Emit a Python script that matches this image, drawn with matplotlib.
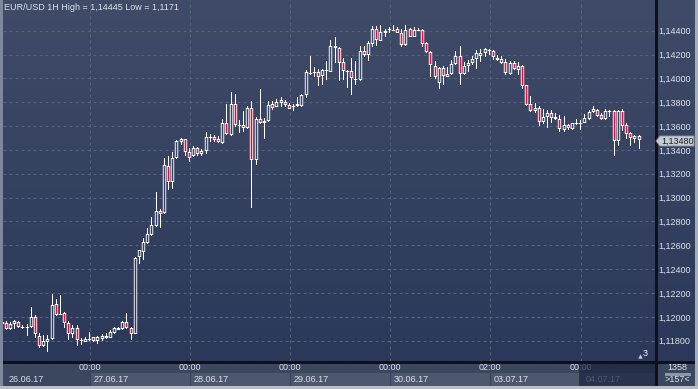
import matplotlib
matplotlib.use("Agg")
import matplotlib.pyplot as plt
import numpy as np
from matplotlib.patches import Rectangle, Polygon
from matplotlib.lines import Line2D
from matplotlib.colors import LinearSegmentedColormap, to_rgb
import matplotlib.transforms as mtransforms

plt.rcParams['font.family'] = ['Liberation Sans', 'DejaVu Sans']

W, H = 698, 389

# ---------------- data (EUR/USD, 1H candles) ----------------
opens = [
    1.11940, 1.11953, 1.11897, 1.11942, 1.11958, 1.11914, 1.11917, 1.11914, 1.12003, 1.11836,
    1.11753, 1.11792, 1.11811, 1.12111, 1.12028, 1.12031, 1.11953, 1.11858, 1.11903, 1.11803,
    1.11792, 1.11814, 1.11828, 1.11797, 1.11814, 1.11839, 1.11825, 1.11867, 1.11892, 1.11897,
    1.11955, 1.11908, 1.11858, 1.12503, 1.12547, 1.12619, 1.12686, 1.12764, 1.12892, 1.12875,
    1.13264, 1.13131, 1.13331, 1.13464, 1.13489, 1.13381, 1.13347, 1.13419, 1.13364, 1.13392,
    1.13508, 1.13508, 1.13490, 1.13457, 1.13624, 1.13527, 1.13783, 1.13608, 1.13608, 1.13580,
    1.13750, 1.13317, 1.13658, 1.13624, 1.13641, 1.13783, 1.13764, 1.13797, 1.13806, 1.13781,
    1.13767, 1.13769, 1.13769, 1.13864, 1.14046, 1.14051, 1.14054, 1.14021, 1.14065, 1.14057,
    1.14255, 1.14255, 1.14135, 1.14062, 1.14062, 1.13990, 1.13987, 1.14227, 1.14194, 1.14288,
    1.14411, 1.14316, 1.14378, 1.14411, 1.14411, 1.14411, 1.14383, 1.14280, 1.14411, 1.14350,
    1.14411, 1.14406, 1.14294, 1.14224, 1.14107, 1.13959, 1.14085, 1.14015, 1.14035, 1.14118,
    1.14188, 1.14035, 1.14104, 1.14127, 1.14160, 1.14188, 1.14210, 1.14233, 1.14227, 1.14174,
    1.14160, 1.14135, 1.14035, 1.14127, 1.14071, 1.14107, 1.13943, 1.13786, 1.13725, 1.13753,
    1.13638, 1.13675, 1.13708, 1.13675, 1.13658, 1.13569, 1.13608, 1.13574, 1.13624, 1.13630,
    1.13630, 1.13658, 1.13719, 1.13736, 1.13691, 1.13658, 1.13728, 1.13725, 1.13479, 1.13730,
    1.13608, 1.13541, 1.13490, 1.13513,
]
highs = [
    1.12000, 1.11964, 1.11958, 1.11972, 1.11964, 1.11936, 1.11942, 1.12081, 1.12014, 1.11869,
    1.11847, 1.11847, 1.12194, 1.12153, 1.12181, 1.12042, 1.11964, 1.11936, 1.11936, 1.11819,
    1.11831, 1.11875, 1.11833, 1.11842, 1.11853, 1.11864, 1.11886, 1.11919, 1.11914, 1.11964,
    1.12031, 1.11919, 1.12503, 1.12564, 1.12664, 1.12747, 1.12836, 1.13047, 1.12908, 1.13336,
    1.13347, 1.13386, 1.13486, 1.13503, 1.13492, 1.13414, 1.13436, 1.13425, 1.13408, 1.13547,
    1.13530, 1.13525, 1.13513, 1.13663, 1.13786, 1.13889, 1.13870, 1.13652, 1.13728, 1.13769,
    1.13809, 1.13680, 1.13912, 1.13666, 1.13814, 1.13814, 1.13831, 1.13842, 1.13820, 1.13797,
    1.13786, 1.13842, 1.13870, 1.14071, 1.14188, 1.14099, 1.14082, 1.14082, 1.14143, 1.14322,
    1.14344, 1.14266, 1.14174, 1.14071, 1.14171, 1.14149, 1.14272, 1.14272, 1.14316, 1.14439,
    1.14439, 1.14445, 1.14411, 1.14428, 1.14445, 1.14428, 1.14411, 1.14445, 1.14422, 1.14433,
    1.14422, 1.14411, 1.14305, 1.14230, 1.14146, 1.14099, 1.14104, 1.14093, 1.14155, 1.14227,
    1.14272, 1.14141, 1.14155, 1.14188, 1.14238, 1.14244, 1.14255, 1.14250, 1.14238, 1.14199,
    1.14188, 1.14166, 1.14143, 1.14143, 1.14141, 1.14113, 1.13948, 1.13853, 1.13792, 1.13769,
    1.13747, 1.13736, 1.13736, 1.13708, 1.13691, 1.13686, 1.13619, 1.13630, 1.13663, 1.13652,
    1.13700, 1.13736, 1.13769, 1.13747, 1.13708, 1.13742, 1.13736, 1.13736, 1.13736, 1.13742,
    1.13630, 1.13552, 1.13527, 1.13527,
]
lows = [
    1.11930, 1.11892, 1.11892, 1.11897, 1.11903, 1.11897, 1.11842, 1.11903, 1.11819, 1.11742,
    1.11747, 1.11708, 1.11806, 1.12008, 1.12019, 1.11908, 1.11808, 1.11819, 1.11753, 1.11764,
    1.11786, 1.11797, 1.11792, 1.11769, 1.11797, 1.11814, 1.11819, 1.11858, 1.11886, 1.11892,
    1.11897, 1.11808, 1.11853, 1.12447, 1.12481, 1.12614, 1.12681, 1.12758, 1.12747, 1.12864,
    1.13064, 1.13075, 1.13325, 1.13442, 1.13347, 1.13303, 1.13342, 1.13347, 1.13347, 1.13364,
    1.13464, 1.13469, 1.13462, 1.13446, 1.13524, 1.13521, 1.13596, 1.13541, 1.13549, 1.13574,
    1.12916, 1.13276, 1.13619, 1.13490, 1.13636, 1.13736, 1.13758, 1.13758, 1.13758, 1.13742,
    1.13730, 1.13758, 1.13758, 1.13836, 1.14026, 1.14009, 1.13940, 1.13945, 1.13987, 1.14051,
    1.14127, 1.13981, 1.13987, 1.13920, 1.13864, 1.13942, 1.13981, 1.14182, 1.14149, 1.14266,
    1.14272, 1.14311, 1.14344, 1.14383, 1.14394, 1.14378, 1.14266, 1.14274, 1.14344, 1.14344,
    1.14400, 1.14266, 1.14210, 1.14009, 1.13998, 1.13909, 1.13942, 1.14009, 1.14026, 1.14113,
    1.13942, 1.14029, 1.14057, 1.14110, 1.14077, 1.14141, 1.14177, 1.14199, 1.14154, 1.14143,
    1.14121, 1.14032, 1.14029, 1.14071, 1.14032, 1.13915, 1.13769, 1.13719, 1.13714, 1.13602,
    1.13619, 1.13580, 1.13630, 1.13652, 1.13552, 1.13552, 1.13569, 1.13569, 1.13613, 1.13569,
    1.13624, 1.13652, 1.13708, 1.13680, 1.13647, 1.13652, 1.13680, 1.13351, 1.13429, 1.13563,
    1.13494, 1.13429, 1.13457, 1.13412,
]
closes = [
    1.11960, 1.11897, 1.11942, 1.11964, 1.11914, 1.11919, 1.11914, 1.12003, 1.11858, 1.11758,
    1.11797, 1.11811, 1.12103, 1.12019, 1.12025, 1.11953, 1.11858, 1.11903, 1.11803, 1.11806,
    1.11811, 1.11817, 1.11797, 1.11828, 1.11842, 1.11819, 1.11875, 1.11906, 1.11906, 1.11958,
    1.11903, 1.11858, 1.12497, 1.12558, 1.12625, 1.12692, 1.12769, 1.12892, 1.12864, 1.13275,
    1.13131, 1.13331, 1.13475, 1.13492, 1.13381, 1.13336, 1.13419, 1.13364, 1.13392, 1.13508,
    1.13505, 1.13481, 1.13465, 1.13624, 1.13533, 1.13783, 1.13608, 1.13605, 1.13580, 1.13750,
    1.13317, 1.13658, 1.13624, 1.13644, 1.13775, 1.13755, 1.13800, 1.13817, 1.13775, 1.13747,
    1.13764, 1.13778, 1.13859, 1.14051, 1.14049, 1.14054, 1.14009, 1.14071, 1.14068, 1.14269,
    1.14266, 1.14127, 1.14062, 1.14059, 1.14001, 1.13993, 1.14227, 1.14194, 1.14300, 1.14411,
    1.14322, 1.14389, 1.14397, 1.14414, 1.14408, 1.14383, 1.14283, 1.14408, 1.14350, 1.14408,
    1.14406, 1.14288, 1.14224, 1.14113, 1.14015, 1.14085, 1.14021, 1.14037, 1.14121, 1.14188,
    1.14035, 1.14104, 1.14127, 1.14160, 1.14210, 1.14216, 1.14250, 1.14236, 1.14177, 1.14154,
    1.14127, 1.14043, 1.14132, 1.14077, 1.14107, 1.13937, 1.13781, 1.13725, 1.13755, 1.13638,
    1.13675, 1.13708, 1.13672, 1.13658, 1.13574, 1.13608, 1.13580, 1.13624, 1.13627, 1.13627,
    1.13669, 1.13719, 1.13747, 1.13686, 1.13658, 1.13730, 1.13725, 1.13479, 1.13725, 1.13602,
    1.13533, 1.13499, 1.13518, 1.13480,
]

# time axis: bar index of each labelled hour
grid_idx = [21, 45, 69, 93, 117, 139]
time_labels = ["00:00", "00:00", "00:00", "00:00", "02:00", "00:00"]
date_labels = ["26.06.17", "27.06.17", "28.06.17", "29.06.17", "30.06.17", "03.07.17", "04.07.17"]

price_ticks = [1.118, 1.120, 1.122, 1.124, 1.126, 1.128, 1.130, 1.132,
               1.134, 1.136, 1.138, 1.140, 1.142, 1.144]
title = "EUR/USD 1H High = 1,14445 Low = 1,1171"
last_price = closes[-1]
bars_label = "1358"
visible_label = ">157<"
marker_count = "3"

# ---------------- styling ----------------
BG_TOP = '#3f4b67'
BG_BOT = '#2b3859'
PANEL = '#3b465f'
BOX = '#4d586f'
GRID = '#56647f'
TXT = '#dde2ea'
RED = '#ec0a3c'
LINE = '#0e1218'

fig = plt.figure(figsize=(W / 100, H / 100), dpi=100)
fig.patch.set_facecolor(PANEL)


def fx(x):
    return x / W


def fy(y):
    return 1 - y / H


def frect(x0, y0, x1, y1, color, z=1, **kw):
    fig.add_artist(Rectangle((fx(x0), fy(y1)), (x1 - x0) / W, (y1 - y0) / H,
                             transform=fig.transFigure, facecolor=color,
                             edgecolor='none', zorder=z, **kw))


def fline(x0, y0, x1, y1, color, lw=0.75, z=5):
    fig.add_artist(Line2D([fx(x0), fx(x1)], [fy(y0), fy(y1)], transform=fig.transFigure,
                          color=color, lw=lw, zorder=z, antialiased=False))


# ---- calibrate where the rasteriser puts pixel centres (for crisp 1-px candles)
def calibrate():
    for off in (0.5, 0.0):
        t = Rectangle((100 + off - 0.5, 100 + off - 0.5), 1.0, 1.0,
                      transform=mtransforms.IdentityTransform(), facecolor=(1, 0, 0),
                      edgecolor='none', antialiased=False, snap=False, zorder=100)
        fig.add_artist(t)
        fig.canvas.draw()
        buf = np.asarray(fig.canvas.buffer_rgba()).astype(int)
        t.remove()
        hh = buf.shape[0]
        sub = buf[max(0, hh - 110):hh - 90, 90:110]
        red = (sub[..., 0] > 200) & (sub[..., 1] < 60) & (sub[..., 2] < 60)
        if red.sum() == 1:
            return off, off
    return 0.5, 0.5


OFFX, OFFY = calibrate()

# gradient background behind plot + right scale
bg = fig.add_axes([fx(3), fy(361), 692 / W, 361 / H])
bg.set_zorder(0)
cmap = LinearSegmentedColormap.from_list('bg', [BG_TOP, BG_BOT])
bg.imshow(np.linspace(0, 1, 256).reshape(-1, 1), cmap=cmap, aspect='auto',
          extent=[0, 1, 0, 1], interpolation='bilinear')
bg.set_axis_off()

ax = fig.add_axes([fx(3), fy(361), 652 / W, 361 / H])
ax.set_zorder(2)
ax.patch.set_alpha(0)
YLO, YHI = 1.116302, 1.146574
XLO, XHI = 0.1, 156.7
ax.set_xlim(XLO, XHI)
ax.set_ylim(YLO, YHI)
for s in ax.spines.values():
    s.set_visible(False)

# grid
for p in price_ticks:
    ax.axhline(p, color=GRID, lw=0.72, ls=(0, (3, 3)), zorder=1)
for g in grid_idx:
    ax.axvline(g, color=GRID, lw=0.72, ls=(0, (3, 3)), zorder=1)

top_rgb = np.array(to_rgb(BG_TOP))
bot_rgb = np.array(to_rgb(BG_BOT))


def bg_at(price):
    t = (YHI - price) / (YHI - YLO)
    return tuple(top_rgb + (bot_rgb - top_rgb) * t)


T = ax.transData
Ti = T.inverted()


def drect(x0, x1, y0, y1, color, z, aa=False):
    """rectangle given in display pixels, drawn in data coordinates"""
    (a, b), (c, d) = Ti.transform([(x0, y0), (x1, y1)])
    ax.add_patch(Rectangle((a, b), c - a, d - b, facecolor=color, edgecolor='none',
                           antialiased=aa, snap=False, zorder=z))


def snap_b(v):  # nearest pixel boundary
    return np.round(v - OFFY - 0.5) + OFFY + 0.5


HW_OUT = 1.7   # half width of the body (px)
HW_IN = 0.8    # half width of the body's inner fill (px)

# candles
for i, (o, h, l, c) in enumerate(zip(opens, highs, lows, closes)):
    top, bot = max(o, c), min(o, c)
    dx = T.transform((i, l))[0]
    cx = np.floor(dx - OFFX) + OFFX
    yl = snap_b(T.transform((i, l))[1])
    yh = snap_b(T.transform((i, h))[1])
    yb = snap_b(T.transform((i, bot))[1])
    yt = snap_b(T.transform((i, top))[1])
    yh = max(yh, yl + 1)
    drect(cx - 0.5, cx + 0.5, yl, yh, 'white', 3)
    if top - bot < 0.00006 or yt - yb < 1:
        ym = snap_b(T.transform((i, (top + bot) / 2))[1])
        drect(cx - HW_OUT, cx + HW_OUT, ym - 1, ym, 'white', 4, aa=True)
        continue
    yt = max(yt, yb + 2)
    drect(cx - HW_OUT, cx + HW_OUT, yb, yt, 'white', 4, aa=True)
    if yt - yb >= 3:
        face = RED if c < o else bg_at((top + bot) / 2)
        drect(cx - HW_IN, cx + HW_IN, yb + 1, yt - 1, face, 5, aa=True)

# axes ticks
ax.yaxis.tick_right()
ax.set_yticks(price_ticks, labels=[f"{p:.5f}".replace('.', ',') for p in price_ticks])
ax.tick_params(axis='y', length=0, pad=2.3, labelsize=6.5, labelcolor=TXT)
ax.set_xticks(grid_idx, labels=time_labels)
ax.tick_params(axis='x', length=0, pad=1.6, labelsize=6.5, labelcolor=TXT)

# bottom time panel: date boxes
blend = mtransforms.blended_transform_factory(ax.transData, fig.transFigure)
edges = grid_idx + [XHI]
for k in range(len(grid_idx)):
    x0, x1 = edges[k], edges[k + 1]
    fig.add_artist(Rectangle((x0, fy(386)), x1 - x0, 13 / H, transform=blend,
                             facecolor=BOX, edgecolor='none', zorder=1))
    fig.add_artist(Line2D([x0, x0], [fy(386), fy(373)], transform=blend,
                          color='#36415a', lw=0.75, zorder=2))
off = mtransforms.ScaledTranslation(4 / 100, 0, fig.dpi_scale_trans)
fig.text(fx(9), fy(380), date_labels[0], ha='left', va='center', fontsize=6.5,
         color=TXT, zorder=3)
for k, g in enumerate(grid_idx):
    fig.text(g, fy(380), date_labels[k + 1], transform=blend + off, ha='left',
             va='center', fontsize=6.5, color=TXT, zorder=3)

# dim overlay of current day in time panel
frect(579, 362, 655, 386, '#1c2541', z=6, alpha=0.72)

# right-bottom info cell
fig.text(fx(677), fy(367), bars_label, ha='center', va='center', fontsize=6.5,
         color=TXT, zorder=7)
fline(666, 373.5, 689, 373.5, '#8d96a8', lw=0.75, z=7)
fig.text(fx(677), fy(380), visible_label, ha='center', va='center', fontsize=6.5,
         color=TXT, zorder=7)

# separator lines
fline(655.5, 0, 655.5, 386, LINE, lw=0.75, z=8)
fline(3, 361.5, 695, 361.5, LINE, lw=0.75, z=8)

# outer frame
frect(0, 0, 3, 389, '#7d889e', z=9)
frect(695, 0, 698, 389, '#a9adb5', z=9)
frect(0, 386, 698, 389, '#babec6', z=9)

# title
fig.text(fx(4), fy(8), title, ha='left', va='center', fontsize=6.5, color=TXT, zorder=10)

# last price marker
pts = [(656, 141), (660, 136), (694, 136), (694, 146), (660, 146)]
fig.add_artist(Polygon([(fx(x), fy(y)) for x, y in pts], closed=True,
                       transform=fig.transFigure, facecolor='#c6cad1',
                       edgecolor='#8e95a2', lw=0.6, zorder=10))
fig.text(fx(661), fy(141), f"{last_price:.5f}".replace('.', ','), ha='left',
         va='center', fontsize=6.5, color='#1d2230', zorder=11)

# count marker in plot corner
ax.plot([0.9775], [0.013], transform=ax.transAxes, marker='^', ms=3.2,
        color='#c4c9d2', mec='none', zorder=6, clip_on=False)
fig.text(fx(645), fy(354), marker_count, ha='center', va='center', fontsize=6.5,
         color='white', zorder=10)

fig.savefig('out.png', dpi=100, facecolor=fig.get_facecolor())
